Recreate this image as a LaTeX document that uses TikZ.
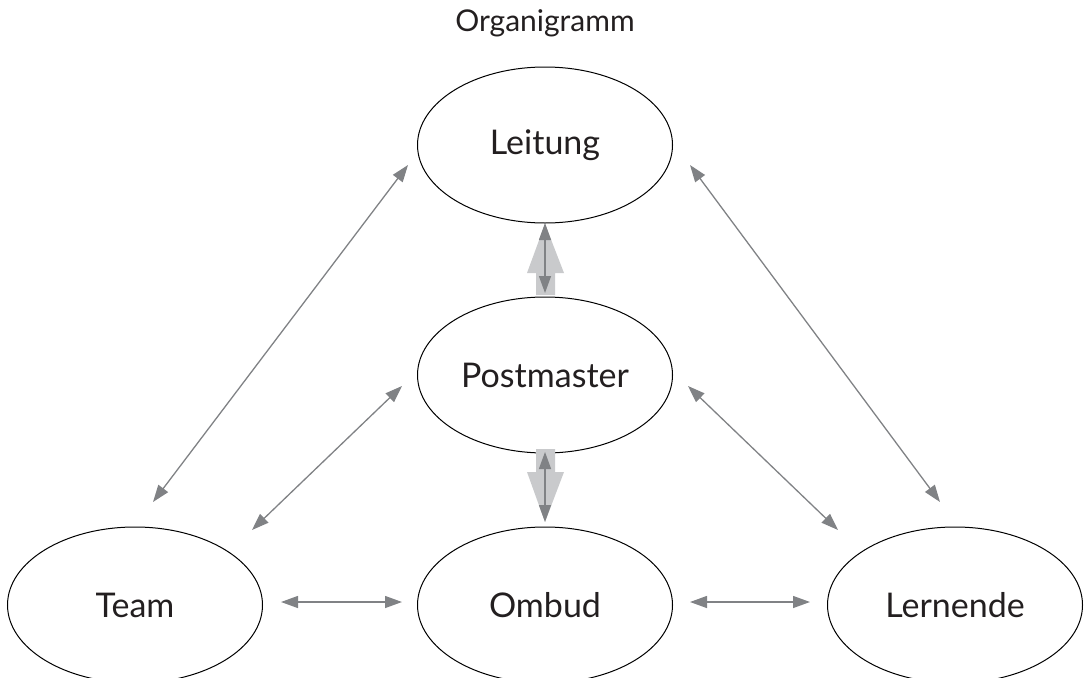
\documentclass[tikz,border=0pt]{standalone}
\usepackage{fontspec}
\setmainfont{Lato}
\usetikzlibrary{arrows.meta,shapes.geometric}
\definecolor{arrgray}{HTML}{808285}
\definecolor{lightgray2}{HTML}{C9CACC}
\definecolor{txt}{HTML}{231F20}
\begin{document}
\begin{tikzpicture}[x=1pt,y=-1pt,
  oval/.style={draw=black,line width=1pt,ellipse,minimum width=255pt,minimum height=156pt,inner sep=0pt,text=txt,font=\fontsize{34}{34}\selectfont},
  conn/.style={draw=arrgray,line width=1.3pt,{Triangle[length=17pt,width=12pt]}-{Triangle[length=17pt,width=12pt]}},
  bigarrow/.style={fill=lightgray2,draw=none}]
\useasboundingbox (0,0) rectangle (1086,677);
\node[text=txt,font=\fontsize{30}{30}\selectfont] (title) at (545,23) {Organigramm};
\node[oval] (lei) at (545,145) {Leitung};
\node[oval] (post) at (545,375) {Postmaster};
\node[oval] (omb) at (545,605) {Ombud};
\node[oval] (team) at (135,605) {Team};
\node[oval] (lern) at (955,605) {Lernende};
% free ends
\coordinate (a1) at (153,502); \coordinate (b1) at (408,165);
\coordinate (a2) at (940,502); \coordinate (b2) at (690,165);
\coordinate (a3) at (252,530); \coordinate (b3) at (402,386);
\coordinate (a4) at (838,530); \coordinate (b4) at (688,386);
\coordinate (a5) at (281,602); \coordinate (b5) at (402,602);
\coordinate (a6) at (690,602); \coordinate (b6) at (810,602);
\coordinate (a7) at (545,223); \coordinate (b7) at (545,293);
\coordinate (a8) at (545,452); \coordinate (b8) at (545,522);
% thick background arrows
\fill[bigarrow] (536,295) -- (536,273) -- (527,273) -- (545,224) -- (564,273) -- (555,273) -- (555,295) -- cycle;
\fill[bigarrow] (536,449) -- (536,472) -- (527,472) -- (545,522) -- (564,472) -- (555,472) -- (555,449) -- cycle;
\draw[conn] (a1) -- (b1);
\draw[conn] (a2) -- (b2);
\draw[conn] (a3) -- (b3);
\draw[conn] (a4) -- (b4);
\draw[conn] (a5) -- (b5);
\draw[conn] (a6) -- (b6);
\draw[conn] (a7) -- (b7);
\draw[conn] (a8) -- (b8);
\end{tikzpicture}
\end{document}
